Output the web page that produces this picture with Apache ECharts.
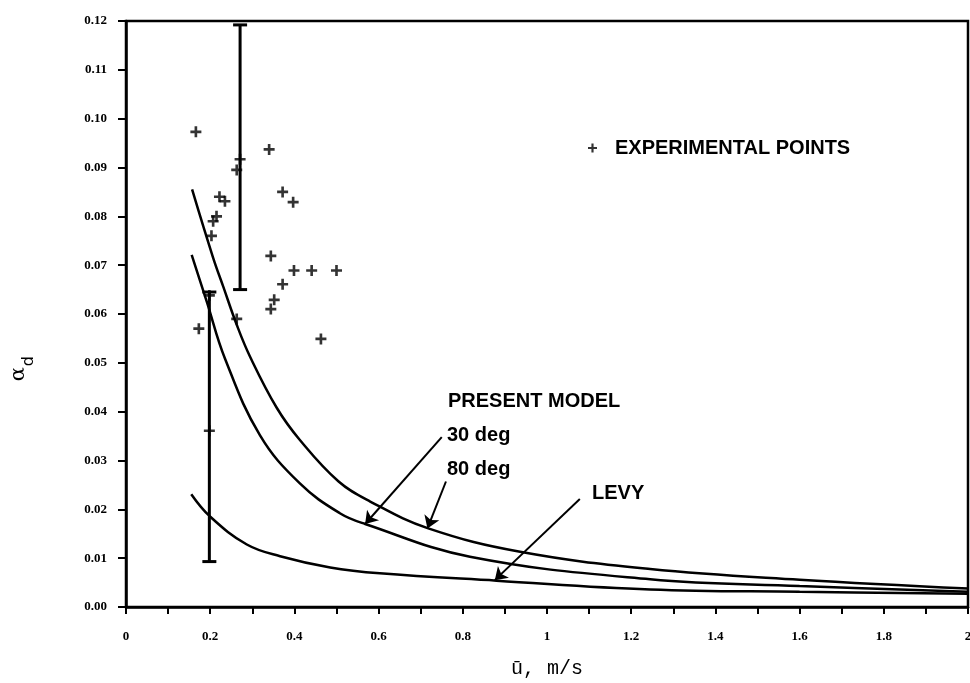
<!DOCTYPE html>
<html>
<head>
<meta charset="utf-8">
<script src="https://cdn.jsdelivr.net/npm/echarts@6/dist/echarts.min.js"></script>
<style>
html, body { margin: 0; padding: 0; background: #fff; }
#chart { width: 970px; height: 683px; }
</style>
</head>
<body>
<div id="chart"></div>
<script>
// experimental points (u in m/s, alpha_d)
const expU = [0.166, 0.340, 0.271, 0.263, 0.372, 0.397, 0.222, 0.235, 0.215, 0.207, 0.203,
  0.344, 0.399, 0.441, 0.500, 0.372, 0.352, 0.344, 0.463, 0.263, 0.173, 0.198, 0.198]
const expA = [0.0973, 0.0937, 0.0917, 0.0895, 0.0850, 0.0829, 0.0840, 0.0831, 0.0800, 0.0790, 0.0760,
  0.0719, 0.0689, 0.0689, 0.0689, 0.0661, 0.0629, 0.0610, 0.0549, 0.0590, 0.0570, 0.0361, 0.0638]

// scatter ranges
const barU = [0.271, 0.198]
const barLow = [0.065, 0.0093]
const barHigh = [0.1192, 0.0645]

// present model, 80 deg
const deg80U = [0.157, 0.207, 0.231, 0.263, 0.295, 0.358, 0.413, 0.505, 0.58, 0.718, 0.936, 1.245, 1.6, 2.0]
const deg80A = [0.0855, 0.0715, 0.0656, 0.0578, 0.0512, 0.0408, 0.0342, 0.0257, 0.0216, 0.0161, 0.0113, 0.0078, 0.0056, 0.0038]

// present model, 30 deg
const deg30U = [0.156, 0.192, 0.235, 0.318, 0.413, 0.508, 0.568, 0.817, 1.245, 1.6, 2.0]
const deg30A = [0.0721, 0.0625, 0.0509, 0.0352, 0.0253, 0.0192, 0.0170, 0.0103, 0.0057, 0.0043, 0.0031]

// Levy
const levyU = [0.155, 0.2, 0.287, 0.366, 0.485, 0.603, 0.88, 1.245, 1.6, 2.0]
const levyA = [0.0231, 0.0185, 0.0128, 0.0104, 0.0081, 0.0069, 0.0054, 0.0036, 0.0031, 0.0027]

// annotation arrows [from, to] in data units
const arrow30 = [[0.750, 0.0348], [0.568, 0.0170]]
const arrow80 = [[0.760, 0.0257], [0.716, 0.0161]]
const arrowLevy = [[1.078, 0.0221], [0.876, 0.0055]]

const xTickLabels = ["0", "0.2", "0.4", "0.6", "0.8", "1", "1.2", "1.4", "1.6", "1.8", "2"]
const yTickLabels = ["0.00", "0.01", "0.02", "0.03", "0.04", "0.05", "0.06", "0.07", "0.08", "0.09", "0.10", "0.11", "0.12"]

const pair = (us, as) => us.map((u, i) => [u, as[i]])
const plusIcon = "path://M3.8,0h2.4v3.8h3.8v2.4h-3.8v3.8h-2.4v-3.8h-3.8v-2.4h3.8z"
const tickFont = { color: "#000", fontFamily: "Liberation Serif", fontWeight: "bold", fontSize: 13 }
const noteFont = { fill: "#000", fontFamily: "Liberation Sans", fontWeight: "bold", fontSize: 20 }

const chart = echarts.init(document.getElementById("chart"))

const curveStyle = {
  type: "line",
  smooth: 0.4,
  showSymbol: false,
  silent: true,
  lineStyle: { color: "#000", width: 2.5 },
}

const option = {
  backgroundColor: "#fff",
  animation: false,
  grid: {
    left: 126,
    right: 2,
    top: 21,
    bottom: 76,
    outerBoundsMode: "none",
    show: true,
    borderColor: "#000",
    borderWidth: 2.5,
  },
  legend: {
    left: 583,
    top: 133,
    data: ["EXPERIMENTAL POINTS"],
    icon: plusIcon,
    itemWidth: 9,
    itemHeight: 9,
    itemStyle: { color: "#000" },
    textStyle: { color: "#000", fontFamily: "Liberation Sans", fontWeight: "bold", fontSize: 20, padding: [0, 0, 0, 13] },
  },
  xAxis: {
    type: "value",
    min: 0,
    max: 2,
    interval: 0.1,
    name: "ū, m/s",
    nameLocation: "middle",
    nameGap: 52,
    nameTextStyle: { color: "#000", fontFamily: "Liberation Mono", fontSize: 20 },
    axisLine: { lineStyle: { color: "#000", width: 2.5 } },
    axisTick: { length: 7, lineStyle: { color: "#000", width: 2 } },
    axisLabel: {
      ...tickFont,
      margin: 23,
      formatter: (v) => {
        const s = String(Math.round(v * 10) / 10)
        return xTickLabels.includes(s) ? s : ""
      },
    },
    splitLine: { show: false },
  },
  yAxis: {
    type: "value",
    min: 0,
    max: 0.12,
    interval: 0.01,
    axisLine: { lineStyle: { color: "#000", width: 2.5 } },
    axisTick: { length: 8, lineStyle: { color: "#000", width: 2 } },
    axisLabel: {
      ...tickFont,
      margin: 19,
      formatter: (v) => yTickLabels[Math.round(v * 100)],
    },
    splitLine: { show: false },
  },
  graphic: [
    { type: "text", left: 8, top: 367, rotation: Math.PI / 2,
      style: { text: "α", fill: "#000", fontFamily: "DejaVu Serif", fontSize: 21 } },
    { type: "text", left: 21, top: 356, rotation: Math.PI / 2,
      style: { text: "d", fill: "#000", fontFamily: "DejaVu Sans", fontSize: 16 } },
    { type: "text", left: 448, top: 391, style: { ...noteFont, text: "PRESENT MODEL" } },
    { type: "text", left: 447, top: 425, style: { ...noteFont, text: "30 deg" } },
    { type: "text", left: 447, top: 459, style: { ...noteFont, text: "80 deg" } },
    { type: "text", left: 592, top: 483, style: { ...noteFont, text: "LEVY" } },
  ],
  series: [
    { ...curveStyle, name: "80 deg", data: pair(deg80U, deg80A) },
    { ...curveStyle, name: "30 deg", data: pair(deg30U, deg30A) },
    {
      ...curveStyle,
      name: "LEVY",
      data: pair(levyU, levyA),
      markLine: {
        silent: true,
        symbol: ["none", "arrow"],
        symbolSize: 12,
        label: { show: false },
        lineStyle: { color: "#000", width: 2, type: "solid" },
        emphasis: { disabled: true },
        data: [arrow30, arrow80, arrowLevy].map((a) => [{ coord: a[0] }, { coord: a[1] }]),
      },
    },
    {
      type: "custom",
      name: "range",
      silent: true,
      data: barU.map((u, i) => [u, barLow[i], barHigh[i]]),
      encode: { x: 0, y: [1, 2] },
      renderItem: (params, api) => {
        const lo = api.coord([api.value(0), api.value(1)])
        const hi = api.coord([api.value(0), api.value(2)])
        const w = 7
        const st = { stroke: "#000", lineWidth: 3 }
        return {
          type: "group",
          children: [
            { type: "line", shape: { x1: lo[0], y1: lo[1], x2: hi[0], y2: hi[1] }, style: st },
            { type: "line", shape: { x1: lo[0] - w, y1: lo[1], x2: lo[0] + w, y2: lo[1] }, style: st },
            { type: "line", shape: { x1: hi[0] - w, y1: hi[1], x2: hi[0] + w, y2: hi[1] }, style: st },
          ],
        }
      },
    },
    {
      type: "scatter",
      name: "EXPERIMENTAL POINTS",
      symbol: plusIcon,
      symbolSize: 11,
      itemStyle: { color: "#000" },
      data: pair(expU, expA),
    },
  ],
}

chart.setOption(option)
</script>
</body>
</html>
